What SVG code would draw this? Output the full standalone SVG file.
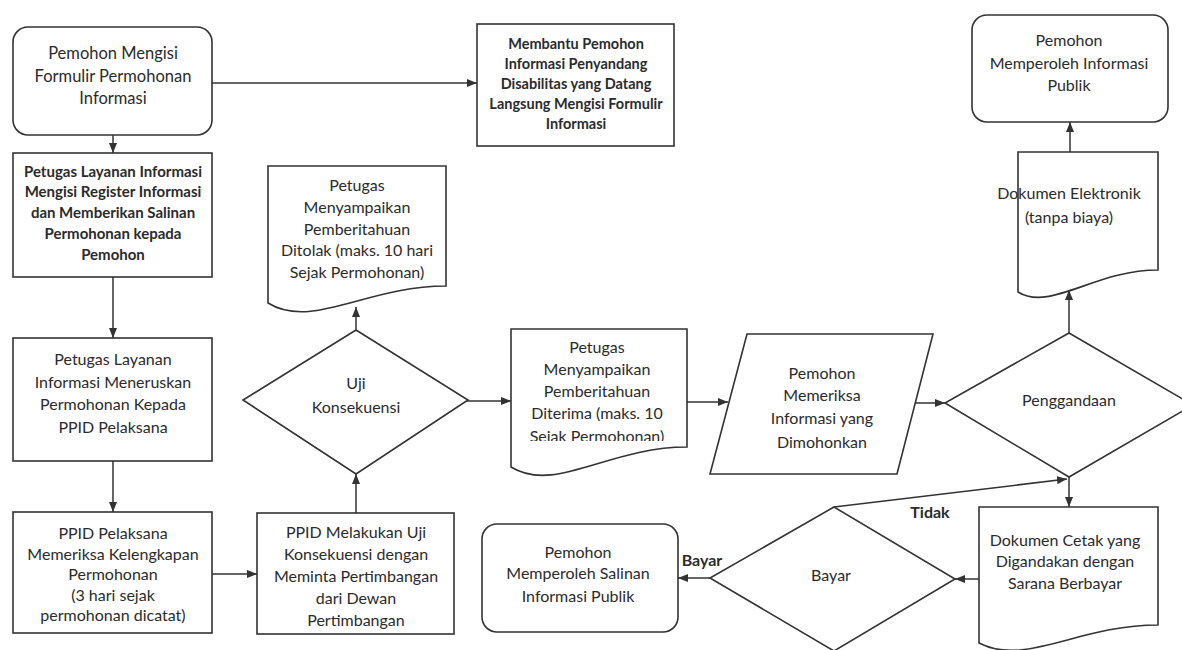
<svg xmlns="http://www.w3.org/2000/svg" width="1182" height="650" viewBox="0 0 1182 650">
<style>
.s{fill:#fff;stroke:#333;stroke-width:1.6}
.c{fill:none;stroke:#333;stroke-width:1.5}
text{font-family:Lato,"Liberation Sans",sans-serif;font-size:16px;fill:#2b2b2b;text-anchor:middle}
.b{font-weight:bold}
.sm{font-size:15px}
.xs{font-size:14.5px}
.lg{font-size:16.5px}
</style>
<defs>
<marker id="ah" markerUnits="userSpaceOnUse" markerWidth="10" markerHeight="8" refX="10" refY="4" orient="auto">
<path d="M0,0 L10,4 L0,8 z" fill="#333"/>
</marker>
<clipPath id="clipD2"><rect x="511" y="329" width="176" height="112"/></clipPath>
</defs>
<rect width="1182" height="650" fill="#fff"/>

<g id="connectors">
<line class="c" x1="212" y1="83" x2="477" y2="83" marker-end="url(#ah)"/>
<line class="c" x1="113" y1="117" x2="113" y2="153" marker-end="url(#ah)"/>
<line class="c" x1="113" y1="277" x2="113" y2="338" marker-end="url(#ah)"/>
<line class="c" x1="113" y1="461" x2="113" y2="512" marker-end="url(#ah)"/>
<line class="c" x1="212" y1="574" x2="257" y2="574" marker-end="url(#ah)"/>
<line class="c" x1="356" y1="513" x2="356" y2="474" marker-end="url(#ah)"/>
<line class="c" x1="356" y1="330" x2="356" y2="307" marker-end="url(#ah)"/>
<line class="c" x1="467" y1="401" x2="511" y2="401" marker-end="url(#ah)"/>
<line class="c" x1="687" y1="402" x2="728" y2="402" marker-end="url(#ah)"/>
<line class="c" x1="915" y1="403" x2="945" y2="403" marker-end="url(#ah)"/>
<line class="c" x1="1069" y1="333" x2="1069" y2="290" marker-end="url(#ah)"/>
<line class="c" x1="1070" y1="152" x2="1070" y2="122" marker-end="url(#ah)"/>
<line class="c" x1="1069" y1="477" x2="1069" y2="507" marker-end="url(#ah)"/>
<line class="c" x1="834" y1="507" x2="1067" y2="479" marker-end="url(#ah)"/>
<line class="c" x1="979" y1="579" x2="955" y2="579" marker-end="url(#ah)"/>
<line class="c" x1="710" y1="578" x2="678" y2="578" marker-end="url(#ah)"/>
<text class="b" x="930" y="518">Tidak</text>
<text class="b" x="702" y="566">Bayar</text>
</g>

<g id="n1">
<rect class="s" x="13" y="27" width="199" height="108" rx="15"/>
<text class="lg" x="113" y="59">Pemohon Mengisi</text>
<text class="lg" x="113" y="82">Formulir Permohonan</text>
<text class="lg" x="113" y="104">Informasi</text>
</g>

<g id="n2">
<rect class="s" x="477" y="24" width="197" height="122"/>
<text class="xs b" x="576" y="49">Membantu Pemohon</text>
<text class="xs b" x="576" y="69">Informasi Penyandang</text>
<text class="xs b" x="576" y="89">Disabilitas yang Datang</text>
<text class="xs b" x="576" y="109">Langsung Mengisi Formulir</text>
<text class="xs b" x="576" y="129">Informasi</text>
</g>

<g id="n3">
<rect class="s" x="13" y="153" width="199" height="124"/>
<text class="sm b" x="113" y="177">Petugas Layanan Informasi</text>
<text class="sm b" x="113" y="197">Mengisi Register Informasi</text>
<text class="sm b" x="113" y="218">dan Memberikan Salinan</text>
<text class="sm b" x="113" y="239">Permohonan kepada</text>
<text class="sm b" x="113" y="260">Pemohon</text>
</g>

<g id="n4">
<rect class="s" x="13" y="338" width="199" height="123"/>
<text x="113" y="365">Petugas Layanan</text>
<text x="113" y="388">Informasi Meneruskan</text>
<text x="113" y="410">Permohonan Kepada</text>
<text x="113" y="433">PPID Pelaksana</text>
</g>

<g id="n5">
<rect class="s" x="13" y="512" width="199" height="121"/>
<text x="113" y="539">PPID Pelaksana</text>
<text x="113" y="560">Memeriksa Kelengkapan</text>
<text x="113" y="580">Permohonan</text>
<text x="113" y="601">(3 hari sejak</text>
<text x="113" y="621">permohonan dicatat)</text>
</g>

<g id="n6">
<rect class="s" x="257" y="513" width="197" height="121"/>
<text x="356" y="538">PPID Melakukan Uji</text>
<text x="356" y="560">Konsekuensi dengan</text>
<text x="356" y="582">Meminta Pertimbangan</text>
<text x="356" y="604">dari Dewan</text>
<text x="356" y="626">Pertimbangan</text>
</g>

<g id="n7">
<path class="s" d="M268,166 H446 V286 C366,286 312,330 268,303 Z"/>
<text x="357" y="191">Petugas</text>
<text x="357" y="213">Menyampaikan</text>
<text x="357" y="235">Pemberitahuan</text>
<text x="357" y="256">Ditolak (maks. 10 hari</text>
<text x="357" y="278">Sejak Permohonan)</text>
</g>

<g id="n8">
<polygon class="s" points="356,330 468,400 356,474 243,400"/>
<text x="356" y="389">Uji</text>
<text x="356" y="413">Konsekuensi</text>
</g>

<g id="n9">
<path class="s" d="M511,329 H687 V447 C608,447 555,494 511,467 Z"/>
<text x="597" y="353">Petugas</text>
<text x="597" y="375">Menyampaikan</text>
<text x="597" y="397">Pemberitahuan</text>
<text x="597" y="419">Diterima (maks. 10</text>
<text x="597" y="442" clip-path="url(#clipD2)">Sejak Permohonan)</text>
</g>

<g id="n10">
<polygon class="s" points="747,334 933,334 897,474 710,474"/>
<text x="822" y="379">Pemohon</text>
<text x="822" y="401">Memeriksa</text>
<text x="822" y="424">Informasi yang</text>
<text x="822" y="448">Dimohonkan</text>
</g>

<g id="n11">
<polygon class="s" points="1069,333 1193,405 1069,477 945,403"/>
<text x="1069" y="406">Penggandaan</text>
</g>

<g id="n12">
<path class="s" d="M1018,152 H1158 V270 C1095,270 1050,312 1018,292 Z"/>
<text x="1069" y="199">Dokumen Elektronik</text>
<text x="1069" y="223">(tanpa biaya)</text>
</g>

<g id="n13">
<rect class="s" x="972" y="15" width="196" height="107" rx="15"/>
<text x="1069" y="46">Pemohon</text>
<text x="1069" y="69">Memperoleh Informasi</text>
<text x="1069" y="91">Publik</text>
</g>

<g id="n14">
<path class="s" d="M979,507 H1158 V625 C1078,625 1025,667 979,643 Z"/>
<text x="1065" y="546">Dokumen Cetak yang</text>
<text x="1065" y="567">Digandakan dengan</text>
<text x="1065" y="589">Sarana Berbayar</text>
</g>

<g id="n15">
<polygon class="s" points="834,507 955,579 834,651 710,578"/>
<text x="831" y="581">Bayar</text>
</g>

<g id="n16">
<rect class="s" x="482" y="524" width="196" height="108" rx="15"/>
<text x="578" y="558">Pemohon</text>
<text x="578" y="579">Memperoleh Salinan</text>
<text x="578" y="602">Informasi Publik</text>
</g>
</svg>
